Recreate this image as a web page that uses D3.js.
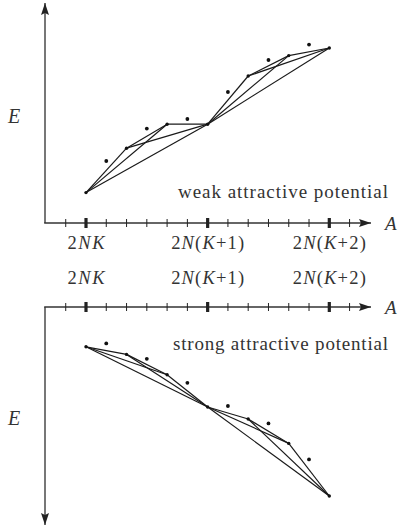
<!DOCTYPE html>
<html>
<head>
<meta charset="utf-8">
<script src="https://cdn.jsdelivr.net/npm/d3@7"></script>
</head>
<body style="margin:0">
<div id="viz"></div>
<script>

// A offsets from 2NK, 0..12
var A = [0,1,2,3,4,5,6,7,8,9,10,11,12];
var weakE = [1.52, 3.1, 3.74, 4.72, 4.94, 5.2, 4.94, 6.55, 7.35, 8.15, 8.37, 8.92, 8.75];
var strongE = [-1.99, -1.82, -2.37, -2.59, -3.39, -3.79, -5.0, -4.95, -5.6, -5.82, -6.82, -7.62, -9.45];
var tickA = [-1,0,1,2,3,4,5,6,7,8,9,10,11,12,13];
var majorA = [0, 6, 12];
var tickLabels = [
	[["2"], ["NK", true]],
	[["2"], ["N", true], ["("], ["K", true], ["+1)"]],
	[["2"], ["N", true], ["("], ["K", true], ["+2)"]]
];
var labelWidths = [37, 73, 73];
// each block of 4 even points is fully connected
var blocks = [[0,2,4,6], [6,8,10,12]];

var viz = { width: 398, height: 527 };

var svg = d3.select("#viz")
	.append("svg")
	.attr("width", viz.width)
	.attr("height", viz.height);

var defs = svg.append("defs");
defs.append("marker")
	.attr("id", "arrow")
	.attr("viewBox", "0 0 12 8")
	.attr("refX", 12).attr("refY", 4)
	.attr("markerWidth", 12).attr("markerHeight", 8)
	.attr("markerUnits", "userSpaceOnUse")
	.attr("orient", "auto")
	.append("path")
	.attr("d", "M0,0 L12,4 L0,8 L2,4 Z")
	.attr("fill", "#222");

var x = d3.scaleLinear().domain([0, 12]).range([86, 329.3]);
var yTop = d3.scaleLinear().domain([0, 10]).range([223, 23]);
var yBot = d3.scaleLinear().domain([0, -10]).range([307, 507]);

var axisX0 = 45, axisX1 = 371;

function addText(parent, tx, ty, size, str, italic, anchor) {
	return parent.append("text")
		.attr("x", tx).attr("y", ty)
		.attr("font-size", size)
		.attr("font-family", "Liberation Serif")
		.attr("fill", "#333")
		.attr("font-style", italic ? "italic" : null)
		.attr("text-anchor", anchor || null)
		.text(str);
}

function drawPanel(yScale, values, yEnd, eLabelY, aLabelY) {
	var y0 = yScale(0);
	var g = svg.append("g");

	// axes
	g.append("line")
		.attr("x1", axisX0).attr("y1", y0)
		.attr("x2", axisX0).attr("y2", yEnd)
		.attr("stroke", "#555").attr("stroke-width", 1.6)
		.attr("marker-end", "url(#arrow)");
	g.append("line")
		.attr("x1", axisX0 - 0.8).attr("y1", y0)
		.attr("x2", axisX1).attr("y2", y0)
		.attr("stroke", "#333").attr("stroke-width", 1.3)
		.attr("marker-end", "url(#arrow)");

	g.selectAll(".tick")
		.data(tickA).enter()
		.append("line")
		.attr("x1", function(d) { return x(d) })
		.attr("x2", function(d) { return x(d) })
		.attr("y1", function(d) { return y0 - (majorA.indexOf(d) >= 0 ? 5 : 4) })
		.attr("y2", function(d) { return y0 + (majorA.indexOf(d) >= 0 ? 5 : 4) })
		.attr("stroke", "#222")
		.attr("stroke-width", function(d) { return majorA.indexOf(d) >= 0 ? 3.2 : 1 });

	addText(g, 385, aLabelY, 19, "A", true);
	addText(g, 8, eLabelY, 20, "E", true);

	// connecting lines
	var pairs = [];
	blocks.forEach(function(b) {
		for (var i = 0; i < b.length; i++)
			for (var j = i + 1; j < b.length; j++) pairs.push([b[i], b[j]]);
	});
	g.selectAll(".link")
		.data(pairs).enter()
		.append("line")
		.attr("x1", function(d) { return x(A[d[0]]) })
		.attr("y1", function(d) { return yScale(values[d[0]]) })
		.attr("x2", function(d) { return x(A[d[1]]) })
		.attr("y2", function(d) { return yScale(values[d[1]]) })
		.attr("stroke", "#1a1a1a").attr("stroke-width", 1.2);

	g.selectAll(".pt")
		.data(A).enter()
		.append("circle")
		.attr("cx", function(d) { return x(d) })
		.attr("cy", function(d, i) { return yScale(values[i]) })
		.attr("r", function(d) { return d % 2 ? 1.9 : 1.7 })
		.attr("fill", "#111");
}

drawPanel(yTop, weakE, 3, 123, 230);
drawPanel(yBot, strongE, 525, 425, 314);

addText(svg, 388, 198, 19, "weak attractive potential", false, "end")
	.attr("textLength", 210).attr("lengthAdjust", "spacing");
addText(svg, 388, 350, 19, "strong attractive potential", false, "end")
	.attr("textLength", 215).attr("lengthAdjust", "spacing");

function labelRow(yy) {
	majorA.forEach(function(d, i) {
		var el = addText(svg, x(d), yy, 18.5, "", false, "middle")
			.attr("textLength", labelWidths[i]).attr("lengthAdjust", "spacing");
		tickLabels[i].forEach(function(p) {
			el.append("tspan")
				.attr("font-style", p[1] ? "italic" : "normal")
				.text(p[0]);
		});
	});
}
labelRow(249);
labelRow(284);

</script>
</body>
</html>
